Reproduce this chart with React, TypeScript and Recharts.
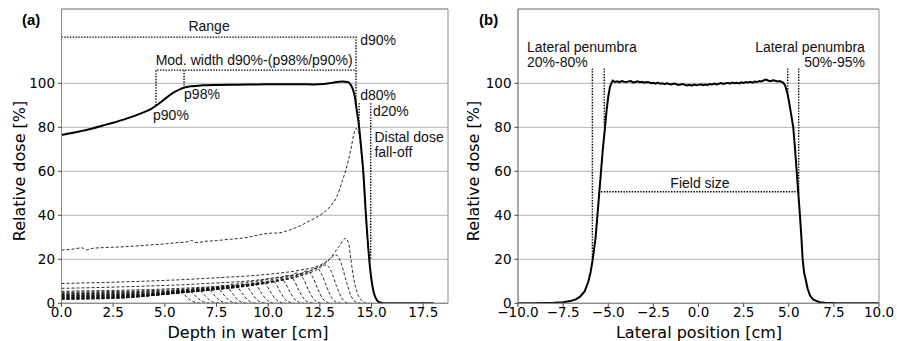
import React from 'react';
import { LineChart, Line, XAxis, YAxis, CartesianGrid, ReferenceArea, ReferenceDot } from 'recharts';

// ---------- tick labels ----------
const depthTicks = [0, 2.5, 5, 7.5, 10, 12.5, 15, 17.5];
const lateralTicks = [-10, -7.5, -5, -2.5, 0, 2.5, 5, 7.5, 10];
const doseTicks = [0, 20, 40, 60, 80, 100];

// ---------- panel (a): SOBP depth dose ----------
const sobp = [
  [0, 76.5], [0.5, 77.4], [1, 78.4], [1.5, 79.5], [2, 80.8], [2.5, 82.1], [3, 83.5], [3.5, 85.1], [4, 86.9],
  [4.3, 88.2], [4.57, 89.8], [4.8, 91.4], [5, 92.9], [5.25, 94.7], [5.5, 96.2], [5.75, 97.4], [6.0, 98.2],
  [6.3, 98.7], [6.8, 99.1], [7.5, 99.3], [8.5, 99.4], [9.5, 99.5], [10.5, 99.6], [11.5, 99.6], [12.2, 99.5],
  [12.7, 99.7], [13.0, 100.1], [13.3, 100.6], [13.6, 100.8], [13.85, 100.6], [14.0, 99.3], [14.1, 97.2],
  [14.2, 93.5], [14.25, 90], [14.33, 85], [14.4, 80], [14.5, 70.5], [14.6, 60], [14.73, 40], [14.89, 20],
  [15.0, 10.5], [15.1, 5.2], [15.2, 2.5], [15.3, 1], [15.45, 0.3], [15.6, 0.05], [16, 0], [18, 0],
];

const bp01 = [
  [0, 24.2], [0.5, 24.6], [1, 25.2], [1.2, 24.3], [1.5, 25], [2, 25.3], [2.5, 25.5], [3, 25.7], [3.5, 26],
  [4, 26.3], [4.5, 26.7], [5, 27], [5.5, 27.5], [6, 27.8], [6.3, 28.5], [6.5, 27.6], [7, 28.2], [7.5, 28.5],
  [8, 29], [8.5, 29.4], [9, 30], [9.5, 31], [10, 31.8], [10.5, 32], [11, 33.2], [11.5, 35], [12, 37.5],
  [12.5, 40], [13, 44], [13.3, 48], [13.6, 56], [13.8, 62], [14.0, 70], [14.15, 77], [14.25, 79.5],
  [14.4, 77], [14.5, 69], [14.6, 58], [14.73, 39], [14.89, 19.5], [15.0, 10], [15.1, 5], [15.2, 2.5],
  [15.3, 1], [15.45, 0.3], [15.6, 0],
];
const bp02 = [
  [0, 9], [2.5, 9.6], [5, 10.4], [7.5, 11.6], [10, 13.2], [11.5, 15], [12.5, 17.3], [13.0, 20.5],
  [13.4, 25.5], [13.75, 29.5], [13.9, 27], [14.0, 20], [14.15, 10.6], [14.3, 5], [14.5, 1.5], [14.7, 0.2], [14.9, 0],
];
const bp03 = [[0, 6.8], [3, 7.5], [6.6, 8.8], [10, 11.2], [12.1, 15], [12.8, 18.5], [13.28, 22], [13.5, 19], [13.75, 11], [14.0, 3.5], [14.3, 0.3], [14.5, 0]];
const bp04 = [[0, 5.5], [6.4, 7.1], [9.5, 9.2], [11.6, 12.5], [12.3, 15], [12.8, 17.5], [13.05, 14.5], [13.3, 8], [13.55, 2.5], [13.8, 0.3], [14.0, 0]];
const bp05 = [[0, 5], [6.2, 6.5], [9.1, 8.5], [11.15, 11.6], [11.85, 13.8], [12.35, 16], [12.6, 13], [12.85, 7], [13.1, 2.2], [13.35, 0.3], [13.55, 0]];
const bp06 = [[0, 4.6], [6, 6], [8.7, 7.9], [10.7, 10.6], [11.4, 12.7], [11.9, 14.7], [12.15, 12], [12.4, 6.5], [12.65, 2], [12.9, 0.3], [13.1, 0]];
const bp07 = [[0, 4.3], [5.7, 5.6], [8.3, 7.3], [10.25, 9.9], [10.95, 11.9], [11.45, 13.8], [11.7, 11.2], [11.95, 6], [12.2, 1.9], [12.45, 0.3], [12.65, 0]];
const bp08 = [[0, 4], [5.5, 5.2], [7.9, 6.8], [9.8, 9.2], [10.5, 11], [11, 12.8], [11.25, 10.4], [11.5, 5.6], [11.75, 1.8], [12, 0.3], [12.2, 0]];
const bp09 = [[0, 3.7], [5.3, 4.8], [7.5, 6.3], [9.35, 8.5], [10.05, 10.2], [10.55, 11.8], [10.8, 9.6], [11.05, 5.2], [11.3, 1.7], [11.55, 0.3], [11.75, 0]];
const bp10 = [[0, 3.5], [5, 4.5], [7.1, 5.9], [8.9, 8], [9.6, 9.6], [10.1, 11.2], [10.35, 9.1], [10.6, 4.9], [10.85, 1.6], [11.1, 0.3], [11.3, 0]];
const bp11 = [[0, 3.3], [4.8, 4.3], [6.7, 5.6], [8.45, 7.6], [9.15, 9], [9.65, 10.5], [9.9, 8.5], [10.15, 4.6], [10.4, 1.5], [10.65, 0.3], [10.85, 0]];
const bp12 = [[0, 3.1], [4.6, 4], [6.3, 5.3], [8, 7.1], [8.7, 8.5], [9.2, 9.9], [9.45, 8], [9.7, 4.3], [9.95, 1.4], [10.2, 0.2], [10.4, 0]];
const bp13 = [[0, 2.9], [4.4, 3.8], [5.9, 4.9], [7.55, 6.7], [8.25, 8], [8.75, 9.3], [9, 7.5], [9.25, 4], [9.5, 1.3], [9.75, 0.2], [9.95, 0]];
const bp14 = [[0, 2.7], [4.2, 3.5], [5.6, 4.6], [7.1, 6.3], [7.8, 7.5], [8.3, 8.7], [8.55, 7], [8.8, 3.8], [9.05, 1.2], [9.3, 0.2], [9.5, 0]];
const bp15 = [[0, 2.5], [3.9, 3.3], [5.2, 4.3], [6.65, 5.8], [7.35, 7], [7.85, 8.1], [8.1, 6.6], [8.35, 3.5], [8.6, 1.1], [8.85, 0.2], [9.05, 0]];
const bp16 = [[0, 2.3], [3.7, 3], [4.9, 4], [6.2, 5.4], [6.9, 6.5], [7.4, 7.5], [7.65, 6.1], [7.9, 3.3], [8.15, 1], [8.4, 0.2], [8.6, 0]];
const bp17 = [[0, 2.2], [3.5, 2.9], [4.5, 3.7], [5.75, 5.1], [6.45, 6.1], [6.95, 7.1], [7.2, 5.8], [7.45, 3.1], [7.7, 1], [7.95, 0.2], [8.15, 0]];
const bp18 = [[0, 2], [3.2, 2.6], [4.2, 3.4], [5.3, 4.7], [6, 5.7], [6.5, 6.6], [6.75, 5.4], [7, 2.9], [7.25, 0.9], [7.5, 0.2], [7.7, 0]];
const bp19 = [[0, 1.9], [3, 2.5], [3.9, 3.2], [4.85, 4.4], [5.55, 5.3], [6.05, 6.2], [6.3, 5], [6.55, 2.7], [6.8, 0.9], [7.05, 0.2], [7.25, 0]];
const bp20 = [[0, 1.8], [2.8, 2.3], [3.6, 3], [4.4, 4.1], [5.1, 5], [5.6, 5.8], [5.85, 4.7], [6.1, 2.5], [6.35, 0.8], [6.6, 0.2], [6.8, 0]];
const braggPeaks = [bp01, bp02, bp03, bp04, bp05, bp06, bp07, bp08, bp09, bp10, bp11, bp12, bp13, bp14, bp15, bp16, bp17, bp18, bp19, bp20];

// annotation guide lines (data coordinates)
const rangeGuide = [[0, 121], [14.25, 121], [14.25, 90]];
const modWidthGuide = [[4.57, 90], [4.57, 106], [14.25, 106]];
const p98Guide = [[5.93, 106], [5.93, 98]];
const d80Guide = [[14.4, 91], [14.4, 80]];
const d20Guide = [[14.96, 91], [14.96, 20]];
const depthGuides = [rangeGuide, modWidthGuide, p98Guide, d80Guide, d20Guide];

const depthNotes = [
  { x: 7.14, y: 126, text: 'Range', anchor: 'middle' },
  { x: 14.45, y: 119.5, text: 'd90%', anchor: 'start' },
  { x: 9.32, y: 110.6, text: 'Mod. width d90%-(p98%/p90%)', anchor: 'middle' },
  { x: 5.93, y: 95, text: 'p98%', anchor: 'start' },
  { x: 4.43, y: 85.6, text: 'p90%', anchor: 'start' },
  { x: 14.45, y: 94.6, text: 'd80%', anchor: 'start' },
  { x: 15.07, y: 87.6, text: 'd20%', anchor: 'start' },
  { x: 15.14, y: 75.6, text: 'Distal dose', anchor: 'start' },
  { x: 15.14, y: 68.8, text: 'fall-off', anchor: 'start' },
];

// ---------- panel (b): lateral profile ----------
const lateral = [
  [-10, 0], [-9, 0.05], [-8.5, 0.1], [-8, 0.2], [-7.5, 0.5], [-7.1, 1], [-6.8, 1.8], [-6.56, 3], [-6.3, 5.5],
  [-6.1, 10], [-5.98, 14], [-5.86, 20], [-5.7, 30], [-5.6, 40], [-5.5, 50], [-5.4, 60], [-5.3, 70], [-5.18, 80],
  [-5.1, 87], [-5.0, 94], [-4.9, 98.5], [-4.8, 100.5],
  [-4.75, 101.2], [-4.625, 100.6], [-4.5, 100.9], [-4.375, 100.5], [-4.25, 101.0], [-4.125, 100.7], [-4.0, 100.6],
  [-3.875, 100.9], [-3.75, 101.0], [-3.625, 100.4], [-3.5, 100.6], [-3.375, 100.9], [-3.25, 100.5], [-3.125, 100.7],
  [-3.0, 100.3], [-2.875, 100.6], [-2.75, 100.5], [-2.625, 100.1], [-2.5, 100.3], [-2.375, 99.9], [-2.25, 100.3],
  [-2.125, 99.8], [-2.0, 100.0], [-1.875, 99.6], [-1.75, 100.0], [-1.625, 99.7], [-1.5, 99.5], [-1.375, 99.9],
  [-1.25, 99.7], [-1.125, 99.3], [-1.0, 99.5], [-0.875, 99.7], [-0.75, 99.3], [-0.625, 99.0], [-0.5, 99.3],
  [-0.375, 98.9], [-0.25, 99.4], [-0.125, 99.1], [0, 99.3], [0.125, 99.6], [0.25, 99.2], [0.375, 99.5], [0.5, 99.3],
  [0.625, 99.7], [0.75, 99.5], [0.875, 99.9], [1.0, 99.5], [1.125, 99.8], [1.25, 100.1], [1.375, 99.7], [1.5, 100.0],
  [1.625, 100.2], [1.75, 99.9], [1.875, 100.4], [2.0, 100.1], [2.125, 100.3], [2.25, 100.0], [2.375, 100.5],
  [2.5, 100.2], [2.625, 100.6], [2.75, 100.4], [2.875, 100.7], [3.0, 100.3], [3.125, 100.8], [3.25, 100.6],
  [3.375, 101.1], [3.5, 100.9], [3.625, 101.4], [3.75, 101.7], [3.875, 101.2], [4.0, 101.0], [4.125, 101.4],
  [4.25, 101.2], [4.375, 100.9], [4.5, 101.1], [4.6, 100.7],
  [4.7, 100.3], [4.8, 99], [4.94, 95], [5.05, 90], [5.15, 85], [5.25, 80], [5.35, 70], [5.44, 60], [5.53, 50],
  [5.62, 40], [5.7, 30], [5.77, 20], [5.85, 14], [5.96, 10], [6.05, 6.5], [6.18, 3.5], [6.35, 1.8], [6.55, 1],
  [6.73, 0.5], [7, 0.25], [7.5, 0.1], [8, 0.05], [9, 0], [10, 0],
];

const pen20Guide = [[-5.88, 106.8], [-5.88, 20]];
const pen80Guide = [[-5.22, 106.8], [-5.22, 80]];
const pen95Guide = [[4.94, 106.8], [4.94, 95]];
const pen50Guide = [[5.55, 106.8], [5.55, 50]];
const fieldGuide = [[-5.4, 50.7], [5.5, 50.7]];
const lateralGuides = [pen20Guide, pen80Guide, pen95Guide, pen50Guide, fieldGuide];

const lateralNotes = [
  { x: -9.5, y: 116.5, text: 'Lateral penumbra', anchor: 'start' },
  { x: -9.5, y: 109.7, text: '20%-80%', anchor: 'start' },
  { x: 9.22, y: 116.5, text: 'Lateral penumbra', anchor: 'end' },
  { x: 9.22, y: 109.7, text: '50%-95%', anchor: 'end' },
  { x: 0.08, y: 54.7, text: 'Field size', anchor: 'middle' },
];

// ---------- helpers ----------
const toPts = (a: number[][]) => a.map(([x, y]) => ({ x, y }));
const DEPTH_DOMAIN: [number, number] = [0, 18.7];
const LATERAL_DOMAIN: [number, number] = [-10, 10];
const DOSE_DOMAIN: [number, number] = [0, 133.8];

const TICK_FONT = { fontFamily: 'DejaVu Sans', fontSize: 13.5, fill: '#000' };
const NOTE_FONT = 'Liberation Sans, Arial, sans-serif';
const fmt1 = (v: number) => v.toFixed(1).replace('-', '\u2212');

const noteLabel = (text: string, anchor: string) => (props: any) => {
  const vb = props.viewBox || {};
  const x = (vb.x ?? 0) + (vb.width ?? 0) / 2;
  const y = (vb.y ?? 0) + (vb.height ?? 0) / 2;
  return (
    <text x={x} y={y} dy="0.36em" textAnchor={anchor as any} fontFamily={NOTE_FONT} fontSize={14} fill="#111">
      {text}
    </text>
  );
};

const SPINE = '#8c8c8c';
const GRID = '#b3b3b3';

export default function App() {
  const H = 341;
  return (
    <div style={{ position: 'absolute', left: 0, top: 0, width: 897, height: H, background: '#fff' }}>
      {/* panel (a) */}
      <div style={{ position: 'absolute', left: 0, top: 0 }}>
        <LineChart width={450} height={H} margin={{ top: 9, right: 2, bottom: 0, left: 0 }}>
          <CartesianGrid vertical={false} stroke={GRID} strokeWidth={1} />
          <XAxis
            dataKey="x"
            type="number"
            domain={DEPTH_DOMAIN}
            ticks={depthTicks}
            tickFormatter={fmt1}
            allowDataOverflow
            height={37.7}
            tick={TICK_FONT}
            tickSize={3.5}
            tickMargin={1}
            tickLine={{ stroke: '#444' }}
            axisLine={{ stroke: SPINE }}
          />
          <YAxis
            type="number"
            domain={DOSE_DOMAIN}
            ticks={doseTicks}
            allowDataOverflow
            width={61.5}
            tick={TICK_FONT}
            tickSize={3.5}
            tickMargin={3}
            tickLine={{ stroke: '#444' }}
            axisLine={{ stroke: SPINE }}
          />
          {braggPeaks.map((c, i) => (
            <Line
              key={'bp' + i}
              data={toPts(c)}
              dataKey="y"
              type="monotone"
              stroke="#111"
              strokeWidth={0.9}
              strokeDasharray="3 2"
              dot={false}
              isAnimationActive={false}
            />
          ))}
          <Line data={toPts(sobp)} dataKey="y" type="monotone" stroke="#000" strokeWidth={2} dot={false} isAnimationActive={false} />
          {depthGuides.map((g, i) => (
            <Line
              key={'dg' + i}
              data={toPts(g)}
              dataKey="y"
              type="linear"
              stroke="#000"
              strokeWidth={1.4}
              strokeDasharray="1.4 1.4"
              dot={false}
              isAnimationActive={false}
            />
          ))}
          {depthNotes.map((n, i) => (
            <ReferenceDot key={'dn' + i} x={n.x} y={n.y} r={0} fill="none" stroke="none" label={{ content: noteLabel(n.text, n.anchor) } as any} />
          ))}
          <ReferenceArea x1={DEPTH_DOMAIN[0]} x2={DEPTH_DOMAIN[1]} y1={DOSE_DOMAIN[0]} y2={DOSE_DOMAIN[1]} fill="none" stroke={SPINE} strokeWidth={1} fillOpacity={0} />
        </LineChart>
      </div>

      {/* panel (b) */}
      <div style={{ position: 'absolute', left: 450, top: 0 }}>
        <LineChart width={447} height={H} margin={{ top: 9, right: 18, bottom: 0, left: 0 }}>
          <CartesianGrid vertical={false} stroke={GRID} strokeWidth={1} />
          <XAxis
            dataKey="x"
            type="number"
            domain={LATERAL_DOMAIN}
            ticks={lateralTicks}
            tickFormatter={fmt1}
            allowDataOverflow
            height={37.7}
            tick={TICK_FONT}
            tickSize={3.5}
            tickMargin={1}
            tickLine={{ stroke: '#444' }}
            axisLine={{ stroke: SPINE }}
          />
          <YAxis
            type="number"
            domain={DOSE_DOMAIN}
            ticks={doseTicks}
            allowDataOverflow
            width={68}
            tick={TICK_FONT}
            tickSize={3.5}
            tickMargin={3}
            tickLine={{ stroke: '#444' }}
            axisLine={{ stroke: SPINE }}
          />
          <Line data={toPts(lateral)} dataKey="y" type="linear" stroke="#000" strokeWidth={2} dot={false} isAnimationActive={false} />
          {lateralGuides.map((g, i) => (
            <Line
              key={'lg' + i}
              data={toPts(g)}
              dataKey="y"
              type="linear"
              stroke="#000"
              strokeWidth={1.4}
              strokeDasharray="1.4 1.4"
              dot={false}
              isAnimationActive={false}
            />
          ))}
          {lateralNotes.map((n, i) => (
            <ReferenceDot key={'ln' + i} x={n.x} y={n.y} r={0} fill="none" stroke="none" label={{ content: noteLabel(n.text, n.anchor) } as any} />
          ))}
          <ReferenceArea x1={LATERAL_DOMAIN[0]} x2={LATERAL_DOMAIN[1]} y1={DOSE_DOMAIN[0]} y2={DOSE_DOMAIN[1]} fill="none" stroke={SPINE} strokeWidth={1} fillOpacity={0} />
        </LineChart>
      </div>

      {/* titles */}
      <svg width={897} height={H} style={{ position: 'absolute', left: 0, top: 0, pointerEvents: 'none' }}>
        <text x={22} y={25} fontFamily={NOTE_FONT} fontWeight="bold" fontSize={15} fill="#000">(a)</text>
        <text x={479} y={25} fontFamily={NOTE_FONT} fontWeight="bold" fontSize={15} fill="#000">(b)</text>
        <text x={248} y={338} textAnchor="middle" fontFamily="DejaVu Sans" fontSize={16} fill="#000">Depth in water [cm]</text>
        <text x={699} y={338} textAnchor="middle" fontFamily="DejaVu Sans" fontSize={16} fill="#000">Lateral position [cm]</text>
        <text x={24.5} y={171} transform="rotate(-90 24.5 171)" textAnchor="middle" fontFamily="DejaVu Sans" fontSize={16} fill="#000">Relative dose [%]</text>
        <text x={478.5} y={171} transform="rotate(-90 478.5 171)" textAnchor="middle" fontFamily="DejaVu Sans" fontSize={16} fill="#000">Relative dose [%]</text>
      </svg>
    </div>
  );
}
